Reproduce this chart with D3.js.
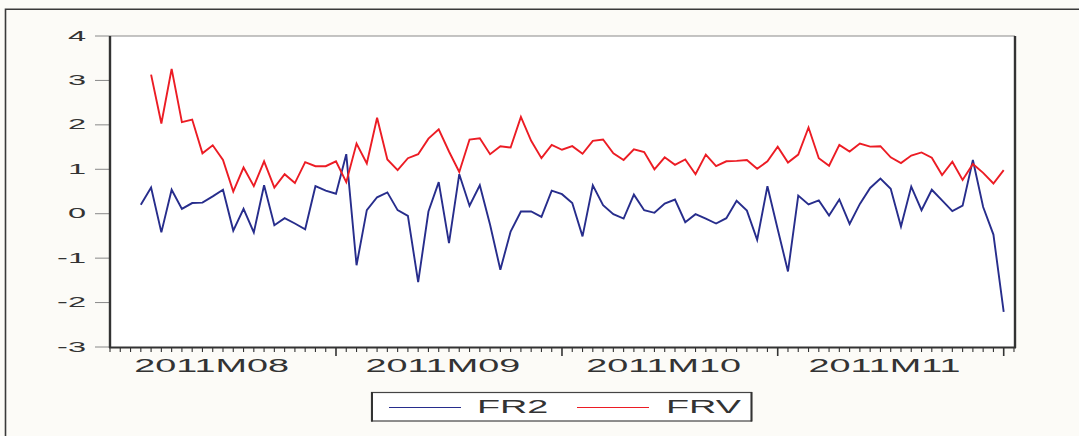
<!DOCTYPE html>
<html>
<head>
<meta charset="utf-8">
<script src="https://cdn.jsdelivr.net/npm/d3@7/dist/d3.min.js"></script>
<style>
  html, body { margin: 0; padding: 0; background: #fcfbf7; }
  svg { display: block; }
  text { font-family: "Liberation Sans", Arial, Helvetica, sans-serif; fill: #333; }
</style>
</head>
<body>
<svg id="chart" width="1079" height="436"></svg>
<script>
// Daily observations, Aug–Nov 2011 (index = observation number, null = not available)
const fr2 = [null, null, null,
  0.20, 0.59, -0.42, 0.54, 0.11, 0.24, 0.25, 0.39, 0.54, -0.38,
  0.11, -0.42, 0.64, -0.26, -0.10, -0.22, -0.35, 0.62, 0.52, 0.45,
  1.34, -1.16, 0.08, 0.37, 0.48, 0.08, -0.05, -1.54, 0.05, 0.71,
  -0.66, 0.89, 0.18, 0.64, -0.25, -1.26, -0.40, 0.05, 0.05, -0.07,
  0.52, 0.44, 0.24, -0.51, 0.64, 0.19, -0.01, -0.11, 0.43, 0.08,
  0.02, 0.23, 0.32, -0.19, -0.01, -0.11, -0.22, -0.10, 0.29, 0.07,
  -0.59, 0.62, -0.35, -1.30, 0.41, 0.21, 0.30, -0.04, 0.32, -0.23,
  0.22, 0.58, 0.79, 0.56, -0.29, 0.61, 0.08, 0.54, 0.30, 0.06,
  0.18, 1.21, 0.15, -0.47, -2.21];

const frv = [null, null, null, null,
  3.13, 2.03, 3.26, 2.06, 2.12, 1.36, 1.54, 1.21, 0.50,
  1.04, 0.62, 1.18, 0.59, 0.89, 0.69, 1.16, 1.07, 1.07, 1.18,
  0.71, 1.58, 1.13, 2.16, 1.22, 0.98, 1.25, 1.34, 1.69, 1.90,
  1.40, 0.94, 1.67, 1.70, 1.34, 1.52, 1.49, 2.18, 1.64, 1.25,
  1.55, 1.44, 1.52, 1.35, 1.64, 1.67, 1.36, 1.21, 1.45, 1.39,
  1.00, 1.27, 1.10, 1.22, 0.89, 1.33, 1.07, 1.18, 1.19, 1.21,
  1.01, 1.18, 1.51, 1.15, 1.33, 1.94, 1.25, 1.08, 1.55, 1.40,
  1.58, 1.51, 1.52, 1.27, 1.14, 1.31, 1.38, 1.26, 0.87, 1.17,
  0.76, 1.12, 0.92, 0.68, 0.98];

// Month labels and the observation numbers where each month's span ends (major ticks)
const months = ["2011M08", "2011M09", "2011M10", "2011M11"];
const monthBounds = [-1, 22, 44, 65, 87];
const yTicks = [-3, -2, -1, 0, 1, 2, 3, 4];
const seriesNames = ["FR2", "FRV"];
const seriesColors = ["#272d8c", "#ec1c24"];

const nObs = 88;
const svg = d3.select("#chart");
const TX = 2.1; // horizontal text stretch

const x = d3.scaleLinear().domain([0, nObs + 0.1]).range([110, 1015]);
const y = d3.scaleLinear().domain([-3, 4]).range([347, 36]);

// outer frame
svg.append("path")
  .attr("d", "M5.5,436 V9.2 H1079")
  .attr("fill", "none").attr("stroke", "#3a3a3a").attr("stroke-width", 1.6);

// plot area
svg.append("rect")
  .attr("x", x.range()[0]).attr("y", y.range()[1])
  .attr("width", x.range()[1] - x.range()[0])
  .attr("height", y.range()[0] - y.range()[1])
  .attr("fill", "#ffffff");

// y axis ticks and labels
const yAxis = svg.append("g");
yTicks.forEach(t => {
  yAxis.append("line")
    .attr("x1", 95).attr("x2", x.range()[0])
    .attr("y1", y(t)).attr("y2", y(t))
    .attr("stroke", "#888").attr("stroke-width", 1);
  yAxis.append("text")
    .attr("transform", `translate(86,${y(t) + 4.5}) scale(${TX},1)`)
    .attr("text-anchor", "end")
    .attr("font-size", 15.5)
    .text(t === 0 ? "0" : String(t).replace("-", "-"));
});

// x axis ticks: one per observation, longer at month ends
const xAxis = svg.append("g");
d3.range(0, nObs + 1).forEach(k => {
  const major = monthBounds.includes(k);
  xAxis.append("line")
    .attr("x1", x(k)).attr("x2", x(k))
    .attr("y1", y.range()[0]).attr("y2", y.range()[0] + (major ? 9 : 5))
    .attr("stroke", "#333").attr("stroke-width", major ? 1.6 : 1.1);
});
months.forEach((m, i) => {
  const c = (monthBounds[i] + monthBounds[i + 1]) / 2 - 0.6;
  xAxis.append("text")
    .attr("transform", `translate(${x(c)},372) scale(${TX},1)`)
    .attr("text-anchor", "middle")
    .attr("font-size", 18)
    .text(m);
});

// plot frame
const [x0, x1] = x.range();
const [yb, yt] = y.range();
svg.append("line").attr("x1", x0).attr("x2", x1).attr("y1", yt).attr("y2", yt)
  .attr("stroke", "#8a8a8a").attr("stroke-width", 1.2);
svg.append("line").attr("x1", x0).attr("x2", x0).attr("y1", yt).attr("y2", yb + 1)
  .attr("stroke", "#333").attr("stroke-width", 2.4);
svg.append("line").attr("x1", x1).attr("x2", x1).attr("y1", yt).attr("y2", yb + 1)
  .attr("stroke", "#333").attr("stroke-width", 2.4);
svg.append("line").attr("x1", x0 - 1).attr("x2", x1 + 1).attr("y1", yb + 0.5).attr("y2", yb + 0.5)
  .attr("stroke", "#333").attr("stroke-width", 2.2);

// series lines
const line = d3.line()
  .defined(d => d != null)
  .x((d, i) => x(i))
  .y(d => y(d));

[fr2, frv].forEach((s, i) => {
  svg.append("path")
    .datum(s)
    .attr("d", line)
    .attr("fill", "none")
    .attr("stroke", seriesColors[i])
    .attr("stroke-width", 1.9)
    .attr("stroke-linejoin", "miter");
});

// legend
const lg = svg.append("g");
lg.append("rect")
  .attr("x", 371.5).attr("y", 392.5).attr("width", 380).attr("height", 28.5)
  .attr("fill", "#ffffff").attr("stroke", "#444").attr("stroke-width", 1.2);
lg.append("line").attr("x1", 372).attr("x2", 372).attr("y1", 392).attr("y2", 421.5)
  .attr("stroke", "#333").attr("stroke-width", 2);
lg.append("line").attr("x1", 751.5).attr("x2", 751.5).attr("y1", 392).attr("y2", 421.5)
  .attr("stroke", "#333").attr("stroke-width", 2);
const legendLineX = [389, 577];
const legendTextX = [477, 666];
seriesNames.forEach((name, i) => {
  lg.append("line")
    .attr("x1", legendLineX[i]).attr("x2", legendLineX[i] + 72)
    .attr("y1", 407.5).attr("y2", 407.5)
    .attr("stroke", seriesColors[i]).attr("stroke-width", 1.1);
  lg.append("text")
    .attr("transform", `translate(${legendTextX[i]},413) scale(${TX},1)`)
    .attr("font-size", 18)
    .text(name);
});
</script>
</body>
</html>
